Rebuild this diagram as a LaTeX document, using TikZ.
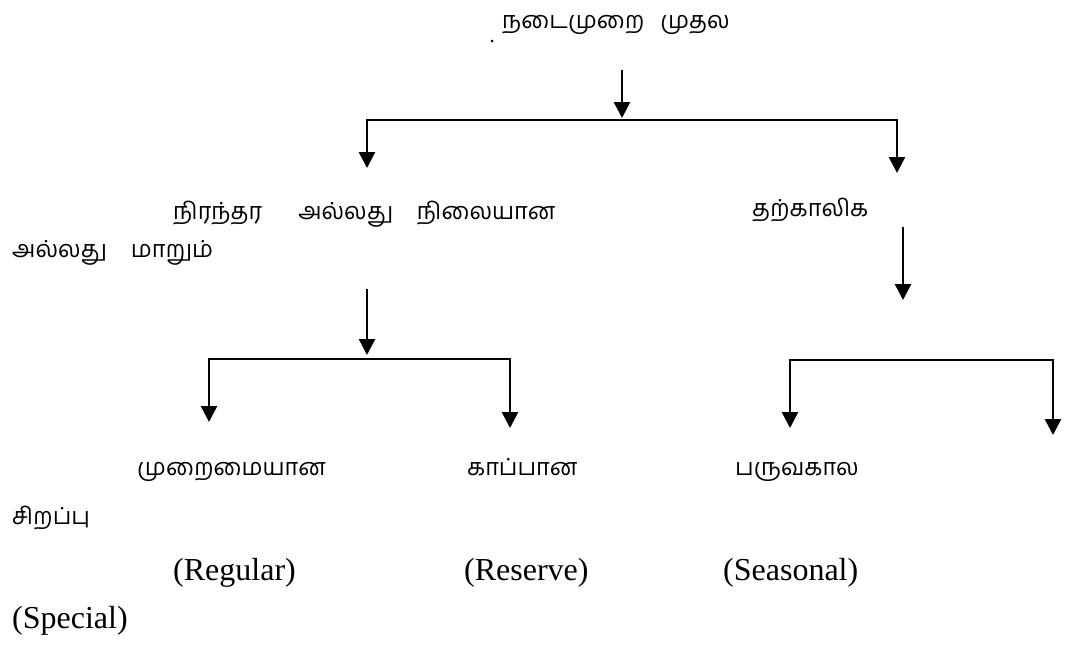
\documentclass[tikz,border=0pt]{standalone}
\usepackage{fontspec}
\setmainfont{Liberation Serif}
\newfontfamily\tamil[Script=Tamil]{Hind Madurai}
\usetikzlibrary{arrows.meta}

\begin{document}
\begin{tikzpicture}[x=1pt,y=-1pt,
  ta/.style={font=\tamil\fontsize{23.5}{28}\selectfont, anchor=base west, inner sep=0pt},
  en/.style={font=\fontsize{32}{38}\selectfont, anchor=base west, inner sep=0pt},
  link/.style={line width=2.5pt},
  arr/.style={line width=2.5pt, -{Triangle[width=16pt,length=16pt]}}]
\useasboundingbox (0,0) rectangle (1074,646);

% labels
\node[ta] (root)  at (502,28)  {நடைமுறை\hspace{16pt}முதல};
\node[inner sep=0pt, minimum size=3pt, circle, fill] (dot) at (492,41) {};
\node[ta] (perm)  at (173,219) {நிரந்தர\hspace{36pt}அல்லது\hspace{24pt}நிலையான};
\node[ta] (var)   at (12,257)  {அல்லது\hspace{24pt}மாறும்};
\node[ta] (temp)  at (752,216) {தற்காலிக};
\node[ta] (reg)   at (137,475) {முறைமையான};
\node[ta] (res)   at (467,475) {காப்பான};
\node[ta] (sea)   at (735,475) {பருவகால};
\node[ta] (spe)   at (12,524)  {சிறப்பு};
\node[en] (regE)  at (173,580) {(Regular)};
\node[en] (resE)  at (464,580) {(Reserve)};
\node[en] (seaE)  at (723,580) {(Seasonal)};
\node[en] (speE)  at (12,628)  {(Special)};

% bracket points
\coordinate (t0) at (622,70);
\coordinate (t1) at (622,118);
\coordinate (tl) at (367,120);
\coordinate (tr) at (897,120);
\coordinate (tlE) at (367,168);
\coordinate (trE) at (897,173);

\coordinate (p0) at (367,289);
\coordinate (p1) at (367,355);
\coordinate (pl) at (209,359);
\coordinate (pr) at (510,359);
\coordinate (plE) at (209,422);
\coordinate (prE) at (510,428);

\coordinate (q0) at (903,227);
\coordinate (q1) at (903,300);
\coordinate (ql) at (790,360);
\coordinate (qr) at (1053,360);
\coordinate (qlE) at (790,428);
\coordinate (qrE) at (1053,435);

% connectors
\draw[arr] (t0) -- (t1);
\draw[link] ([xshift=-1.25pt]tl) -- ([xshift=1.25pt]tr);
\draw[arr] (tl) -- (tlE);
\draw[arr] (tr) -- (trE);

\draw[arr] (p0) -- (p1);
\draw[link] ([xshift=-1.25pt]pl) -- ([xshift=1.25pt]pr);
\draw[arr] (pl) -- (plE);
\draw[arr] (pr) -- (prE);

\draw[arr] (q0) -- (q1);
\draw[link] ([xshift=-1.25pt]ql) -- ([xshift=1.25pt]qr);
\draw[arr] (ql) -- (qlE);
\draw[arr] (qr) -- (qrE);
\end{tikzpicture}
\end{document}
